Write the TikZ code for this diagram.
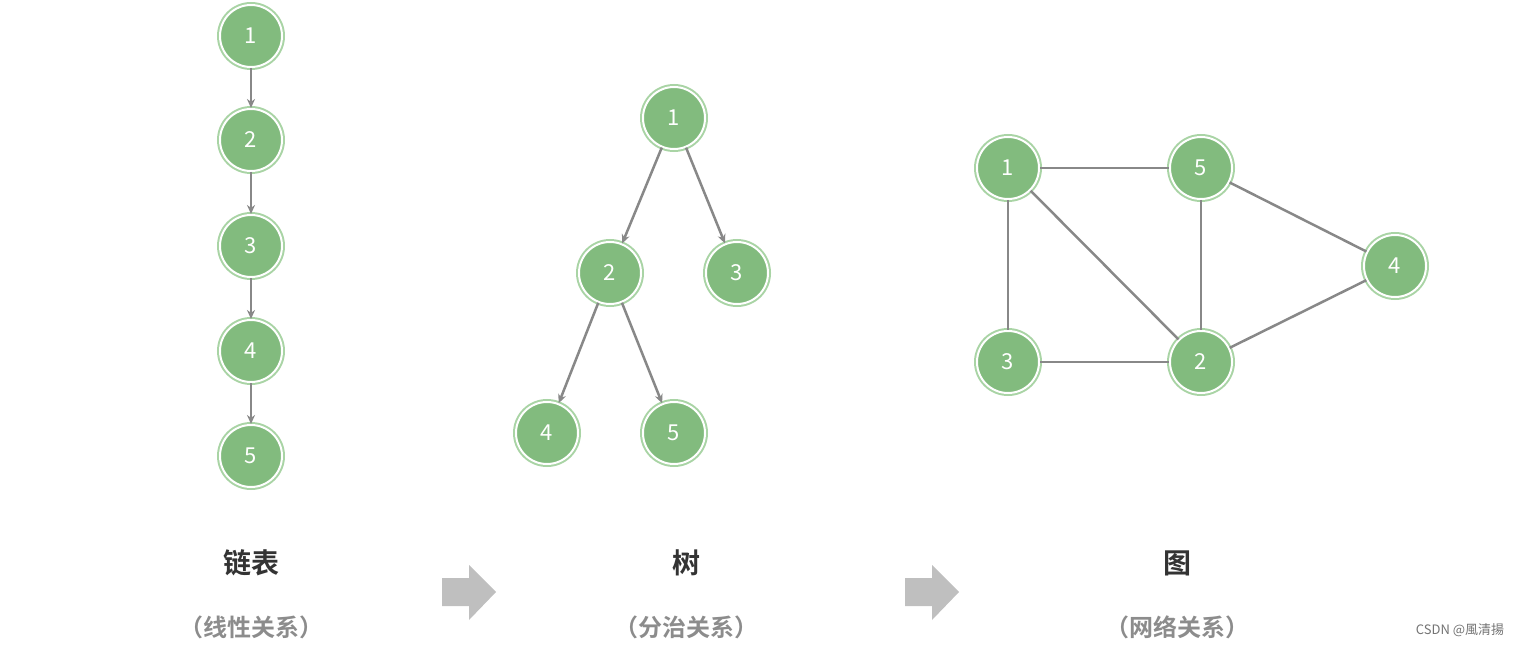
\documentclass[tikz,border=0pt]{standalone}
\usepackage{fontspec}
\newfontfamily\cjk{Noto Sans CJK SC}
\newfontfamily\cjkb{Noto Sans CJK SC Bold}
\usetikzlibrary{arrows.meta}
\definecolor{nodegreen}{HTML}{82BB7E}
\definecolor{ringgreen}{HTML}{A9D4A5}
\definecolor{edgegray}{HTML}{888888}
\definecolor{blockgray}{HTML}{BFBFBF}
\begin{document}
\begin{tikzpicture}[x=1pt,y=-1pt,>={Stealth[length=9pt,width=8pt]},
    vertex/.style={circle, minimum size=62pt, inner sep=0pt, fill=nodegreen,
      draw=white, line width=2pt, preaction={draw=ringgreen, line width=6pt},
      text=white, font=\cjk\fontsize{22}{22}\selectfont},
    edge/.style={draw=edgegray, line width=2.5pt},
    title/.style={font=\cjkb\fontsize{28}{28}\selectfont, text=black!80},
    subtitle/.style={font=\cjkb\fontsize{24}{24}\selectfont, text=black!45},
    block/.style={fill=blockgray}]
  \useasboundingbox (0,0) rectangle (1526,647);

  % linked list
  \foreach \i/\y in {1/36,2/140,3/246,4/351,5/456}
    \node[vertex] (l\i) at (251,\y) {\i};
  \foreach \a/\b in {1/2,2/3,3/4,4/5}
    \draw[edge,->] (l\a) -- (l\b);

  % tree
  \node[vertex] (t1) at (674,118) {1};
  \node[vertex] (t2) at (610,273) {2};
  \node[vertex] (t3) at (737,273) {3};
  \node[vertex] (t4) at (547,433) {4};
  \node[vertex] (t5) at (674,433) {5};
  \foreach \a/\b in {1/2,1/3,2/4,2/5}
    \draw[edge,->] (t\a) -- (t\b);

  % graph
  \node[vertex] (g1) at (1008,168) {1};
  \node[vertex] (g5) at (1201,168) {5};
  \node[vertex] (g4) at (1395,266) {4};
  \node[vertex] (g3) at (1008,362) {3};
  \node[vertex] (g2) at (1201,362) {2};
  \foreach \a/\b in {1/5,1/3,1/2,5/2,5/4,3/2,2/4}
    \draw[edge] (g\a) -- (g\b);

  % captions
  \node[title] (cap1) at (251,563) {链表};
  \node[subtitle] (sub1) at (251,627) {（线性关系）};
  \node[title] (cap2) at (686,563) {树};
  \node[subtitle] (sub2) at (686,627) {（分治关系）};
  \node[title] (cap3) at (1177,563) {图};
  \node[subtitle] (sub3) at (1177,627) {（网络关系）};

  \foreach \x in {442,905}
    \fill[block] (\x,578) -- (\x+27,578) -- (\x+27,565) -- (\x+54,592)
      -- (\x+27,620) -- (\x+27,606) -- (\x,606) -- cycle;

  \node[font=\cjk\fontsize{13}{13}\selectfont, text=black!55] (mark) at (1460,630) {CSDN @風清揚};
\end{tikzpicture}
\end{document}
